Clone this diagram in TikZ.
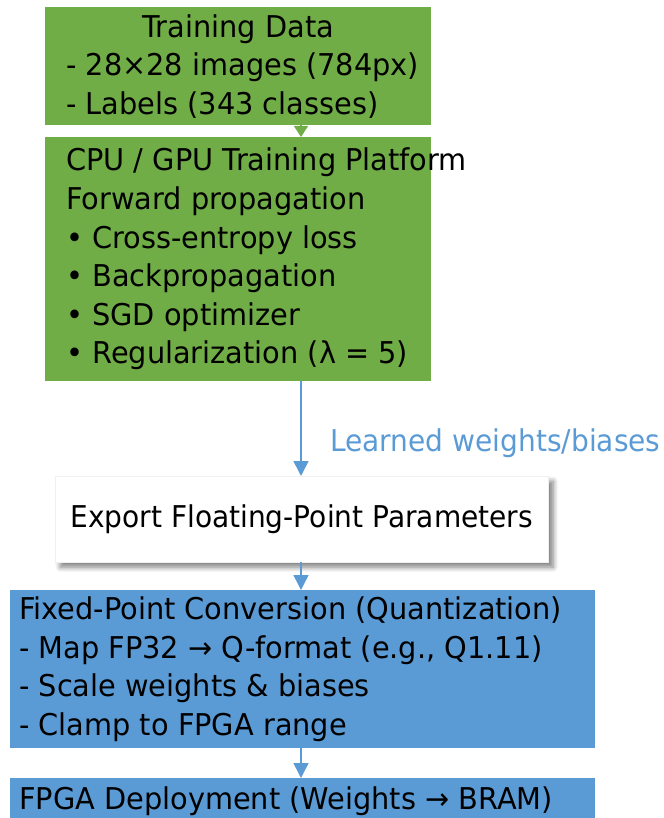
\documentclass[tikz,border=0pt]{standalone}
\usepackage{fontspec}
\setmainfont{DejaVu Sans}[FakeStretch=0.96]
\newfontfamily\narrowsans{DejaVu Sans}[FakeStretch=0.935]
\usetikzlibrary{arrows.meta,shadows.blur}

\definecolor{boxgreen}{HTML}{70AD47}
\definecolor{boxblue}{HTML}{5B9BD5}

\begin{document}
\begin{tikzpicture}[x=1pt,y=-1pt,
  every node/.style={font=\fontsize{30}{38.6}\selectfont},
  block/.style={rectangle, inner sep=0pt, anchor=north west},
  greenblock/.style={block, fill=boxgreen, minimum width=386pt},
  blueblock/.style={block, fill=boxblue, minimum width=585pt},
  whiteblock/.style={rectangle, fill=white, draw=black!6, line width=0.4pt,
    minimum width=493pt, minimum height=86pt, anchor=north west,
    font=\fontsize{30}{38.6}\narrowsans,
    blur shadow={shadow xshift=5pt, shadow yshift=-5pt, shadow blur steps=8,
      shadow blur radius=5pt, shadow opacity=50}},
  boxtext/.style={anchor=west, align=left, inner sep=0pt},
  greenarrow/.style={draw=boxgreen, line width=1.2pt, -{Triangle[width=14pt,length=11pt]}},
  bluearrow/.style={draw=boxblue, line width=1.5pt, -{Triangle[width=15pt,length=15pt]}},
]
\useasboundingbox (0,0) rectangle (663,818);

% data and training stages
\node[greenblock, minimum height=118pt] (t1) at (45,7) {};
\node[boxtext] (t1txt) at ([xshift=21pt]t1.west)
  {\makebox[344pt][c]{Training Data}\\
   - 28×28 images (784px)\\
   - Labels (343 classes)};
\node[greenblock, minimum height=244pt] (t2) at (45,137) {};
\node[boxtext] (t2txt) at ([xshift=21pt]t2.west)
  {CPU / GPU Training Platform\\
   Forward propagation\\
   • Cross-entropy loss\\
   • Backpropagation\\
   • SGD optimizer\\
   • Regularization (λ = 5)};

% export stage
\node[whiteblock] (t3) at (55,476) {Export Floating-Point Parameters};

% FPGA stages
\node[blueblock, minimum height=158pt] (t4) at (10,590) {};
\node[boxtext] (t4txt) at ([xshift=9pt]t4.west)
  {Fixed-Point Conversion (Quantization)\\
   - Map FP32 → Q-format (e.g., Q1.11)\\
   - Scale weights \& biases\\
   - Clamp to FPGA range};
\node[blueblock, minimum height=46pt] (t5) at (10,778) {};
\node[boxtext] (t5txt) at ([xshift=9pt]t5.west)
  {FPGA Deployment (Weights → BRAM)};

% connectors along a common vertical axis
\coordinate (ax) at (301,0);
\draw[greenarrow] (t1.south -| ax) -- (t2.north -| ax);
\draw[bluearrow] (t2.south -| ax) -- (t3.north -| ax);
\draw[bluearrow] (t3.south -| ax) -- (t4.north -| ax);
\draw[bluearrow] (t4.south -| ax) -- (t5.north -| ax);

\node[anchor=west, text=boxblue, inner sep=0pt, font=\fontsize{30}{38.6}\narrowsans]
  (lbl) at (330,443) {Learned weights/biases};
\end{tikzpicture}
\end{document}
